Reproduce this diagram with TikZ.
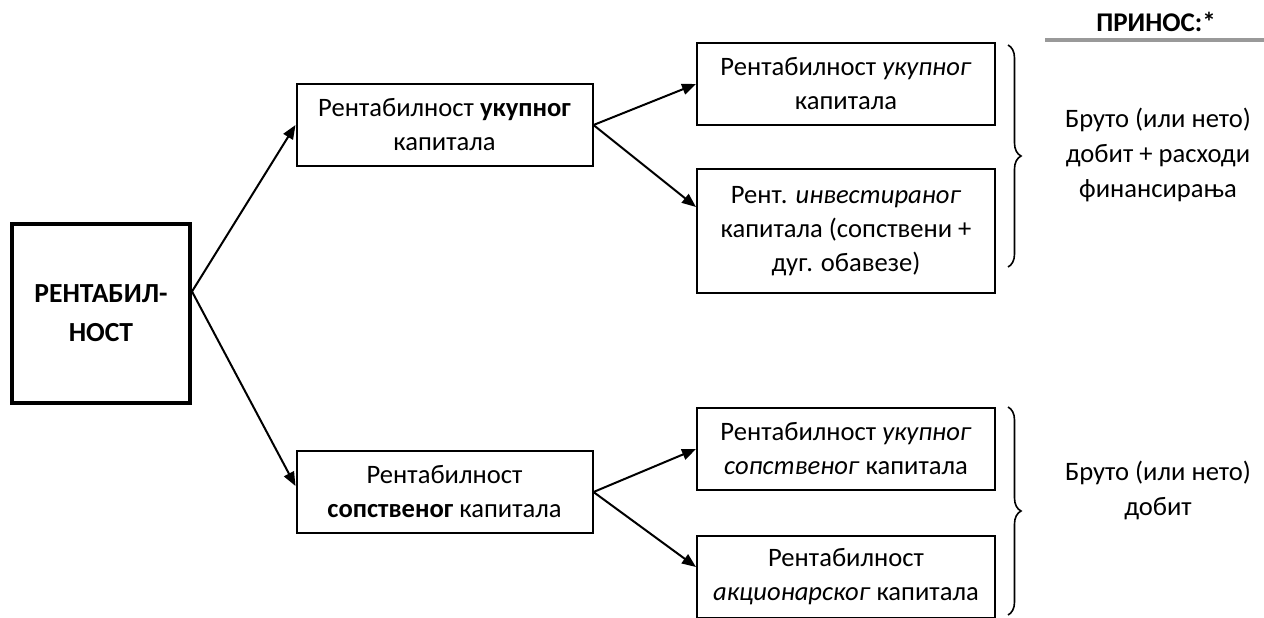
\documentclass[tikz,border=0pt]{standalone}
\usepackage{fontspec}
\setmainfont{Carlito}
\usetikzlibrary{arrows.meta,decorations.pathreplacing}

\begin{document}
\begin{tikzpicture}[x=0.5pt,y=-0.5pt,
        box/.style={draw, line width=1pt, inner sep=0pt, align=center,
            minimum width=148pt, minimum height=41pt,
            font=\fontsize{13.3}{17}\selectfont},
        arr/.style={-{Triangle[length=7pt,width=5.5pt]}, line width=1pt},
        side/.style={align=center, font=\fontsize{13.3}{17.5}\selectfont},
        brc/.style={decorate, decoration={brace, amplitude=6.5pt}, line width=0.8pt}]
    \useasboundingbox (0,0) rectangle (1264,617);
    \clip (0,0) rectangle (1264,617);

    % Main box
    \node[box, line width=2pt, minimum width=89pt, minimum height=89.5pt,
        font=\fontsize{13.8}{19.5}\selectfont\bfseries] (R) at (101,313.5) {РЕНТАБИЛ-\\НОСТ};

    % Middle column
    \node[box] (A) at (444.5,125) {Рентабилност \textbf{укупног}\\капитала};
    \node[box] (B) at (444.5,492) {Рентабилност\\\textbf{сопственог} капитала};

    % Right column
    \node[box, minimum width=149pt] (A1) at (846,84) {Рентабилност \textit{укупног}\\капитала};
    \node[box, minimum width=149pt, minimum height=62pt] (A2) at (846,231) {Рент. \textit{инвестираног}\\капитала (сопствени +\\дуг. обавезе)};
    \node[box, minimum width=149pt] (B1) at (846,449) {Рентабилност \textit{укупног}\\\textit{сопственог} капитала};
    \node[box, minimum width=149pt] (B2) at (846,577) {Рентабилност\\\textit{акционарског} капитала};

    % Arrows
    \draw[arr] ([yshift=11pt]R.east) -- (A.west);
    \draw[arr] ([yshift=11pt]R.east) -- ([yshift=3pt]B.west);
    \draw[arr] (A.east) -- (A1.west);
    \draw[arr] (A.east) -- ([yshift=-19.5pt]A2.north west);
    \draw[arr] (B.east) -- (B1.west);
    \draw[arr] (B.east) -- ([yshift=-16pt]B2.north west);

    % Braces
    \draw[brc] (1008,45) -- (1008,267);
    \draw[brc] (1008,407) -- (1008,615);

    % Returns
    \node[font=\fontsize{13.5}{16}\selectfont\bfseries] (P) at (1156,22) {ПРИНОС:*};
    \draw[gray!80, line width=2pt] (1045,40) -- (1264,40);
    \node[side] (T1) at (1158,155) {Бруто (или нето)\\добит + расходи\\финансирања};
    \node[side] (T2) at (1158,490) {Бруто (или нето)\\добит};
\end{tikzpicture}
\end{document}
